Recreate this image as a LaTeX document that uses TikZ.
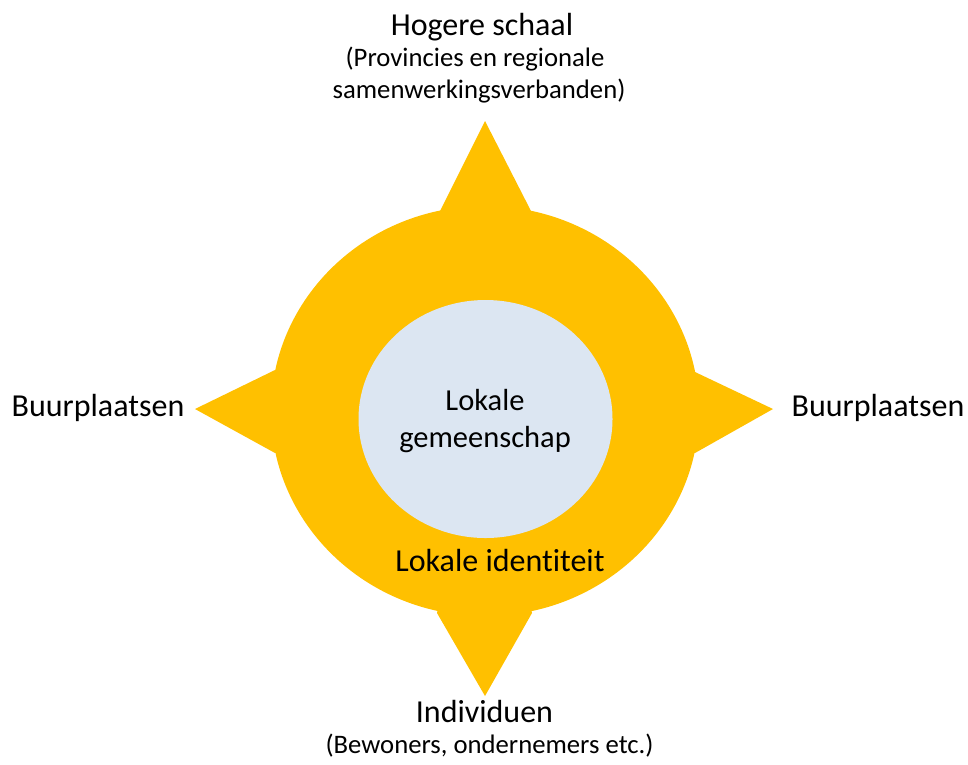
\documentclass[tikz,border=0pt]{standalone}
\usepackage{fontspec}
\setmainfont[Ligatures=NoCommon]{Carlito}
\definecolor{starfill}{HTML}{FFC000}
\definecolor{innerfill}{HTML}{DCE6F2}
\begin{document}
\begin{tikzpicture}[x=1pt,y=-1pt,
  big/.style={font=\fontsize{32}{38}\selectfont, inner sep=0pt, anchor=base},
  small/.style={font=\fontsize{26.7}{32}\selectfont, inner sep=0pt, anchor=base},
  mid/.style={font=\fontsize{30.5}{37}\selectfont, inner sep=0pt, anchor=base}]
\useasboundingbox (0,0) rectangle (968,764);
\coordinate (c) at (485,411);
% outer star
\fill[starfill] (c) ellipse [x radius=214pt, y radius=205pt];
\fill[starfill] (440,211) -- (485,121) -- (531,211) -- (c) -- cycle;
\fill[starfill] (437,613) -- (485,696) -- (532,613) -- (c) -- cycle;
\fill[starfill] (275,370) -- (195,409) -- (275,453) -- (c) -- cycle;
\fill[starfill] (695,372) -- (773,409) -- (695,453) -- (c) -- cycle;
% inner ellipse
\fill[innerfill] (485.5,419) ellipse [x radius=127pt, y radius=119pt];
% texts
\node[big] (hog) at (482,35) {Hogere schaal};
\node[small] (prov) at (475,66) {(Provincies en regionale};
\node[small] (samen) at (479,98) {samenwerkingsverbanden)};
\node[big] (bl) at (98,416) {Buurplaatsen};
\node[big] (br) at (878,416) {Buurplaatsen};
\node[mid] (lok) at (485,410) {Lokale};
\node[mid] (gem) at (485,447) {gemeenschap};
\node[big] (id) at (500,571) {Lokale identiteit};
\node[big] (ind) at (484.5,722) {Individuen};
\node[small] (bew) at (489.5,753) {(Bewoners, ondernemers etc.)};
\end{tikzpicture}
\end{document}
